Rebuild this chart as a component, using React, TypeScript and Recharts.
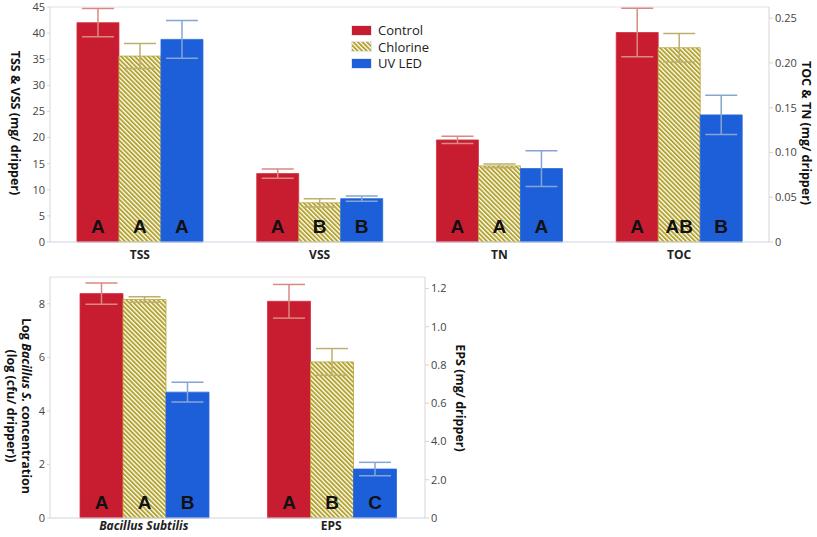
import { BarChart, Bar, XAxis, YAxis, ErrorBar, LabelList, ReferenceLine } from 'recharts';

const treatments = ['Control', 'Chlorine', 'UV LED'];
const seriesKeys = ['control', 'chlorine', 'uv'];

// top panel: TSS/VSS read on left axis, TN/TOC on right axis
const topCategories = ['TSS', 'VSS', 'TN', 'TOC'];
const topSides = ['left', 'left', 'right', 'right'];
const topControl = [42.0, 13.1, 0.114, 0.234];
const topChlorine = [35.6, 7.5, 0.085, 0.217];
const topUv = [38.8, 8.3, 0.082, 0.142];
const topControlErr = [2.7, 0.9, 0.004, 0.027];
const topChlorineErr = [2.4, 0.8, 0.002, 0.016];
const topUvErr = [3.6, 0.5, 0.02, 0.022];
const topControlLetters = ['A', 'A', 'A', 'A'];
const topChlorineLetters = ['A', 'B', 'A', 'AB'];
const topUvLetters = ['A', 'B', 'A', 'B'];
const topLeftTicks = [0, 5, 10, 15, 20, 25, 30, 35, 40, 45];
const topRightTicks = [0, 0.05, 0.1, 0.15, 0.2, 0.25];

// bottom panel: Bacillus on left axis, EPS on right axis
const bottomCategories = ['Bacillus Subtilis', 'EPS'];
const bottomSides = ['left', 'right'];
const bottomControl = [8.38, 1.133];
const bottomChlorine = [8.16, 0.816];
const bottomUv = [4.7, 0.256];
const bottomControlErr = [0.4, 0.088];
const bottomChlorineErr = [0.1, 0.07];
const bottomUvErr = [0.37, 0.035];
const bottomControlLetters = ['A', 'A'];
const bottomChlorineLetters = ['A', 'B'];
const bottomUvLetters = ['B', 'C'];
const bottomLeftTicks = [0, 2, 4, 6, 8];
const bottomRightTicks = [0, 0.2, 0.4, 0.6, 0.8, 1.0, 1.2];
const bottomRightTickLabels = ['0', '2.0', '4.0', '0.6', '0.8', '1.0', '1.2'];
const italicCategories = ['Bacillus Subtilis'];

const fills = ['#c81d31', 'url(#chlorineStripes)', '#1d5fd8'];
const strokes = ['#d0303f', '#b8a736', '#2a68d8'];
const errColors = ['#d98a80', '#bfae6e', '#86a4d4'];

const FONT = '"Open Sans", "DejaVu Sans", sans-serif';

function buildRows(categories, sides, values, errors, letters) {
  return categories.map((name, i) => {
    const row: any = { name };
    seriesKeys.forEach((k, s) => {
      const isLeft = sides[i] === 'left';
      row[`${k}_l`] = isLeft ? values[s][i] : null;
      row[`${k}_r`] = isLeft ? null : values[s][i];
      row[`${k}_l_err`] = isLeft ? errors[s][i] : null;
      row[`${k}_r_err`] = isLeft ? null : errors[s][i];
      row[`${k}_l_txt`] = isLeft ? letters[s][i] : null;
      row[`${k}_r_txt`] = isLeft ? null : letters[s][i];
    });
    return row;
  });
}

const topData = buildRows(
  topCategories,
  topSides,
  [topControl, topChlorine, topUv],
  [topControlErr, topChlorineErr, topUvErr],
  [topControlLetters, topChlorineLetters, topUvLetters]
);

const bottomData = buildRows(
  bottomCategories,
  bottomSides,
  [bottomControl, bottomChlorine, bottomUv],
  [bottomControlErr, bottomChlorineErr, bottomUvErr],
  [bottomControlLetters, bottomChlorineLetters, bottomUvLetters]
);

const letterContent = (p: any) => {
  if (p.value == null || p.value === '') return null;
  return (
    <text
      x={p.x + p.width / 2}
      y={p.y + p.height - 9}
      textAnchor="middle"
      fontSize={19}
      fontWeight={700}
      fill="#111"
      fontFamily='"Liberation Sans", Arial, sans-serif'
    >
      {p.value}
    </text>
  );
};

const CategoryTick = (props: any) => {
  const { x, y, payload, shift = 10 } = props;
  const italic = italicCategories.includes(payload.value);
  return (
    <text
      x={x}
      y={y + shift}
      textAnchor="middle"
      fontSize={12}
      fontWeight={700}
      fontStyle={italic ? 'italic' : 'normal'}
      fill="#222"
      fontFamily={FONT}
    >
      {payload.value}
    </text>
  );
};

const AxisTitle = ({ x, y, lines }: { x: number; y: number; lines: any[] }) => (
  <text
    transform={`rotate(90 ${x} ${y})`}
    x={x}
    y={y}
    textAnchor="middle"
    dominantBaseline="central"
    fontSize={12.5}
    fontWeight={700}
    fill="#111"
    fontFamily={FONT}
  >
    {lines.map((ln, i) => (
      <tspan key={i} x={x} dy={i === 0 ? 0 : 15}>
        {ln}
      </tspan>
    ))}
  </text>
);

const LegendBox = () => (
  <div
    style={{
      position: 'absolute',
      left: 351,
      top: 22,
      fontFamily: FONT,
      fontSize: 13,
      color: '#222',
    }}
  >
    {treatments.map((t, i) => (
      <div key={t} style={{ display: 'flex', alignItems: 'center', height: 16.5 }}>
        <svg width={21} height={11} style={{ display: 'block' }}>
          <rect x={0.5} y={0.5} width={20} height={10} fill={fills[i]} stroke="#e6e6e6" />
        </svg>
        <span style={{ marginLeft: 6, lineHeight: '16px' }}>{t}</span>
      </div>
    ))}
  </div>
);

const tickStyle = { fontSize: 11, fill: '#444', fontFamily: FONT };
const axisLineStyle = { stroke: '#d6d6d6' };

function renderBars(side: 'l' | 'r') {
  const xId = side === 'l' ? 'a' : 'b';
  const yId = side === 'l' ? 'left' : 'right';
  return seriesKeys.map((k, s) => (
    <Bar
      key={`${k}_${side}`}
      dataKey={`${k}_${side}`}
      name={treatments[s]}
      xAxisId={xId}
      yAxisId={yId}
      fill={fills[s]}
      stroke={strokes[s]}
      strokeWidth={0.8}
      isAnimationActive={false}
    >
      <ErrorBar
        dataKey={`${k}_${side}_err`}
        direction="y"
        width={16}
        stroke={errColors[s]}
        strokeWidth={1.5}
      />
      <LabelList dataKey={`${k}_${side}_txt`} content={letterContent} />
    </Bar>
  ));
}

const TopChart = () => (
  <BarChart
    width={817}
    height={267}
    data={topData}
    margin={{ top: 7, right: 0, bottom: 0, left: 0 }}
    barCategoryGap="15%"
    barGap={0}
  >
    <XAxis
      xAxisId="a"
      dataKey="name"
      height={25}
      tick={<CategoryTick shift={9} />}
      tickLine={false}
      axisLine={{ stroke: '#cfd3e3' }}
    />
    <XAxis xAxisId="b" dataKey="name" hide />
    <YAxis
      yAxisId="left"
      width={50}
      domain={[0, 45]}
      ticks={topLeftTicks}
      interval={0}
      tick={tickStyle}
      tickSize={3}
      axisLine={axisLineStyle}
      tickLine={axisLineStyle}
      label={{
        content: () => <AxisTitle x={16} y={123} lines={['TSS & VSS (mg/ dripper)']} />,
      }}
    />
    <YAxis
      yAxisId="right"
      orientation="right"
      width={48}
      domain={[0, 0.2625]}
      ticks={topRightTicks}
      interval={0}
      tickFormatter={(v: number) => (v === 0 ? '0' : v.toFixed(2))}
      tick={tickStyle}
      tickSize={4}
      axisLine={axisLineStyle}
      tickLine={axisLineStyle}
      label={{
        content: () => <AxisTitle x={807} y={133} lines={['TOC & TN (mg/ dripper)']} />,
      }}
    />
    <ReferenceLine xAxisId="a" yAxisId="left" y={45} stroke="#e2e2e2" />
    {renderBars('l')}
    {renderBars('r')}
  </BarChart>
);

const BottomChart = () => (
  <BarChart
    width={480}
    height={267}
    data={bottomData}
    margin={{ top: 7, right: 0, bottom: 0, left: 0 }}
    barCategoryGap="16%"
    barGap={0}
  >
    <XAxis
      xAxisId="a"
      dataKey="name"
      height={19}
      tick={<CategoryTick shift={4} />}
      tickLine={false}
      axisLine={{ stroke: '#cfd3e3' }}
    />
    <XAxis xAxisId="b" dataKey="name" hide />
    <YAxis
      yAxisId="left"
      width={50}
      domain={[0, 9]}
      ticks={bottomLeftTicks}
      interval={0}
      tick={tickStyle}
      tickSize={3}
      axisLine={axisLineStyle}
      tickLine={axisLineStyle}
      label={{
        content: () => (
          <AxisTitle
            x={27}
            y={136}
            lines={[
              <>
                Log <tspan fontStyle="italic">Bacillus S.</tspan> concentration
              </>,
              '(log (cfu/ dripper))',
            ]}
          />
        ),
      }}
    />
    <YAxis
      yAxisId="right"
      orientation="right"
      width={55}
      domain={[0, 1.26]}
      ticks={bottomRightTicks}
      interval={0}
      tickFormatter={(v: number) => bottomRightTickLabels[bottomRightTicks.findIndex((t) => Math.abs(t - v) < 1e-6)] ?? ''}
      tick={tickStyle}
      tickSize={4}
      axisLine={axisLineStyle}
      tickLine={axisLineStyle}
      label={{
        content: () => <AxisTitle x={461} y={128} lines={['EPS (mg/ dripper)']} />,
      }}
    />
    <ReferenceLine xAxisId="a" yAxisId="left" y={9} stroke="#e2e2e2" />
    {renderBars('l')}
    {renderBars('r')}
  </BarChart>
);

export default function App() {
  return (
    <div style={{ position: 'absolute', left: 0, top: 0, width: 817, height: 537, background: '#fff' }}>
      <svg width={0} height={0} style={{ position: 'absolute' }}>
        <defs>
          <pattern
            id="chlorineStripes"
            patternUnits="userSpaceOnUse"
            width={3.2}
            height={3.2}
            patternTransform="rotate(-45)"
          >
            <rect width={3.2} height={3.2} fill="#ffffff" />
            <rect width={1.9} height={3.2} fill="#b3a22c" />
          </pattern>
        </defs>
      </svg>
      <div style={{ position: 'absolute', left: 0, top: 0 }}>
        <TopChart />
      </div>
      <div style={{ position: 'absolute', left: 0, top: 270 }}>
        <BottomChart />
      </div>
      <LegendBox />
    </div>
  );
}
